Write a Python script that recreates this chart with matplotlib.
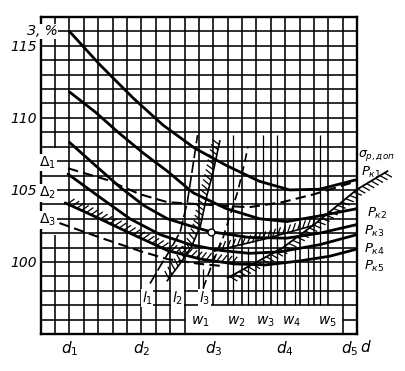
import numpy as np
import matplotlib
matplotlib.use('Agg')
import matplotlib.pyplot as plt
from matplotlib.collections import LineCollection

plt.rcParams['font.family'] = ['DejaVu Sans']
plt.rcParams['mathtext.fontset'] = 'dejavusans'

# x axis in grid cells (d1..d5), y axis in %
d_pos = [2, 7, 12, 17, 21.5]
d_labels = [r'$d_1$', r'$d_2$', r'$d_3$', r'$d_4$', r'$d_5$']
y_ticks = [100, 105, 110, 115]

# solid curves P_k1..P_k5
pk1_x = [2.0, 4.1, 6.4, 8.5, 10.7, 12.9, 15.2, 17.3, 19.4, 21.9]
pk1_y = [116.0, 113.7, 111.4, 109.5, 107.9, 106.7, 105.6, 105.0, 105.05, 105.7]
pk2_x = [2.0, 3.8, 5.5, 7.2, 8.8, 10.6, 12.9, 15.2, 17.1, 19.4, 22.0]
pk2_y = [111.8, 110.4, 108.9, 107.5, 106.3, 104.8, 103.7, 103.0, 102.8, 103.2, 103.7]
pk3_x = [2.0, 3.8, 5.5, 7.2, 8.8, 10.4, 11.8, 14.5, 17.1, 19.4, 22.0]
pk3_y = [108.3, 106.7, 105.2, 103.9, 103.0, 102.5, 102.1, 101.7, 101.65, 102.0, 102.6]
pk4_x = [1.9, 4.1, 6.2, 8.3, 10.4, 12.5, 14.5, 16.6, 19.4, 22.0]
pk4_y = [106.1, 104.5, 103.0, 101.9, 101.2, 100.8, 100.6, 100.7, 101.2, 101.9]
pk5_x = [1.7, 4.1, 6.2, 8.8, 11.1, 13.5, 15.7, 18.0, 20.1, 22.0]
pk5_y = [104.1, 103.0, 102.0, 100.8, 100.2, 99.86, 99.8, 100.07, 100.4, 100.9]

# dashed curves from the Delta levels
d1_x = [1.9, 4.6, 6.9, 8.8, 11.1, 13.2, 14.5, 16.8, 19.0, 21.3, 22.0]
d1_y = [106.5, 105.7, 104.7, 104.15, 104.0, 103.87, 103.8, 104.15, 104.7, 105.4, 105.6]
d3_x = [1.3, 4.1, 6.9, 8.8, 11.1, 12.6]
d3_y = [102.7, 101.7, 100.76, 100.2, 99.86, 99.72]

# hatched limit lines
g_x = [13.0, 16.8, 19.05, 22.0, 24.1]
g_y = [98.9, 100.97, 102.63, 105.04, 106.3]
h2_x = [12.1, 15.6, 19.05]
h2_y = [100.76, 101.6, 102.56]

# l lines
l1_x = [7.6, 8.3, 9.1, 9.7, 10.2, 10.6, 10.9]
l1_y = [98.5, 99.7, 101.0, 102.1, 104.2, 106.8, 108.8]
l2_x = [8.8, 9.7, 10.5, 11.1, 11.55, 12.0, 12.45]
l2_y = [98.7, 99.9, 101.1, 102.5, 104.6, 106.3, 108.4]
l3_x = [11.3, 12.0, 12.6, 13.15, 13.7, 14.2, 14.4]
l3_y = [98.2, 100.07, 101.45, 103.2, 104.9, 107.0, 108.0]

opt_x, opt_y = 11.84, 102.07

# w lines
w_x = [11.3, 13.35, 14.4, 15.45, 16.4, 17.7, 18.6, 19.4]
w_top = [99.5, 108.8, 101.0, 108.8, 108.8, 101.0, 101.0, 108.8]
w_lab_x = [11.07, 13.6, 15.65, 17.45, 19.9]
w_labels = [r'$w_1$', r'$w_2$', r'$w_3$', r'$w_4$', r'$w_5$']


def hatch(ax, x, y, side, step=0.36, length=0.55, angle=60):
    x = np.asarray(x, float)
    y = np.asarray(y, float)
    seg = np.hypot(np.diff(x), np.diff(y))
    cum = np.concatenate([[0], np.cumsum(seg)])
    a = np.deg2rad(angle * side)
    lines = []
    for s in np.arange(step / 2, cum[-1], step):
        i = min(max(np.searchsorted(cum, s) - 1, 0), len(seg) - 1)
        f = (s - cum[i]) / seg[i]
        px = x[i] + f * (x[i + 1] - x[i])
        py = y[i] + f * (y[i + 1] - y[i])
        tx = (x[i + 1] - x[i]) / seg[i]
        ty = (y[i + 1] - y[i]) / seg[i]
        dx = tx * np.cos(a) - ty * np.sin(a)
        dy = tx * np.sin(a) + ty * np.cos(a)
        lines.append([(px, py), (px + length * dx, py + length * dy)])
    ax.add_collection(LineCollection(lines, colors='k', linewidths=0.9,
                                     clip_on=False))


fig = plt.figure(figsize=(4.06, 3.71), dpi=100)
ax = fig.add_axes([40.7 / 406, 37 / 371, 316.5 / 406, 317 / 371])
ax.set_xlim(0, 22)
ax.set_ylim(95, 117)

# grid
glw = 1.15
for gx in range(1, 22):
    if gx == 1:
        ax.vlines([gx, gx], [95, 107.9], [101.9, 117], color='k', lw=glw)
    elif 10 < gx < 21:
        ax.vlines(gx, 97, 117, color='k', lw=glw)
    else:
        ax.vlines(gx, 95, 117, color='k', lw=glw)
for gy in range(96, 117):
    if gy == 96:
        ax.hlines([gy, gy], [0, 21], [10, 22], color='k', lw=glw)
    else:
        ax.hlines(gy, 0, 22, color='k', lw=glw)
ax.vlines(w_x, 97, w_top, color='k', lw=0.9)

for sp in ax.spines.values():
    sp.set_linewidth(1.7)

# curves
for xs, ys in [(pk1_x, pk1_y), (pk2_x, pk2_y), (pk3_x, pk3_y),
               (pk4_x, pk4_y), (pk5_x, pk5_y)]:
    ax.plot(xs, ys, color='k', lw=2.0, solid_capstyle='round',
            solid_joinstyle='round')
ax.plot(d1_x, d1_y, color='k', lw=1.5, linestyle=(0, (5, 2.5)))
ax.plot(d3_x, d3_y, color='k', lw=1.5, linestyle=(0, (5, 2.5)))

hatch(ax, pk5_x[:6], pk5_y[:6], 1, length=0.6)
ax.plot(h2_x, h2_y, color='k', lw=1.2)
hatch(ax, h2_x, h2_y, 1, angle=55, length=0.6)
ax.plot(g_x, g_y, color='k', lw=1.3, clip_on=False)
hatch(ax, g_x, g_y, -1, length=0.6)

ax.plot(l1_x, l1_y, color='k', lw=1.2, linestyle=(0, (7, 2)))
ax.plot(l2_x, l2_y, color='k', lw=1.2)
hatch(ax, l2_x, l2_y, 1, angle=65, length=0.6)
ax.plot(l3_x, l3_y, color='k', lw=1.2, linestyle=(0, (5, 3)))
ax.plot(opt_x, opt_y, 'o', ms=5, mfc='white', mec='k', mew=1.0)

# labels
wb = dict(facecolor='white', edgecolor='none', pad=0.5)
ax.text(-0.95, 116.0, 'З, %', fontsize=10, fontstyle='italic', va='center',
        ha='left', bbox=wb, clip_on=False)
for lab, yy in [(r'$\Delta_1$', 106.9), (r'$\Delta_2$', 104.8), (r'$\Delta_3$', 102.9)]:
    ax.text(0.5, yy, lab, fontsize=10, ha='center', va='center', bbox=wb)
for lab, xx in [(r'$l_1$', 7.4), (r'$l_2$', 9.5), (r'$l_3$', 11.4)]:
    ax.text(xx, 97.5, lab, fontsize=10, ha='center', va='center', bbox=wb)
for lab, xx in zip(w_labels, w_lab_x):
    ax.text(xx, 95.85, lab, fontsize=10, ha='center', va='center')

ax.text(22.05, 107.4, r'$\sigma_{р,доп}$', fontsize=9, ha='left', va='center',
        clip_on=False)
for lab, xx, yy in [(r'$P_{к1}$', 22.25, 106.2), (r'$P_{к2}$', 22.7, 103.4),
                    (r'$P_{к3}$', 22.45, 102.1), (r'$P_{к4}$', 22.45, 100.9),
                    (r'$P_{к5}$', 22.45, 99.7)]:
    ax.text(xx, yy, lab, fontsize=9.5, ha='left', va='center', clip_on=False)
ax.text(22.6, 94.1, r'$d$', fontsize=11, ha='center', va='center', clip_on=False)

ax.set_yticks(y_ticks)
ax.set_yticklabels([str(v) for v in y_ticks], fontstyle='italic', fontsize=10)
ax.set_xticks(d_pos)
ax.set_xticklabels(d_labels, fontsize=11)
ax.tick_params(length=0)
ax.tick_params(axis='y', pad=3)
ax.tick_params(axis='x', pad=4)

plt.savefig('out.png', dpi=100)
